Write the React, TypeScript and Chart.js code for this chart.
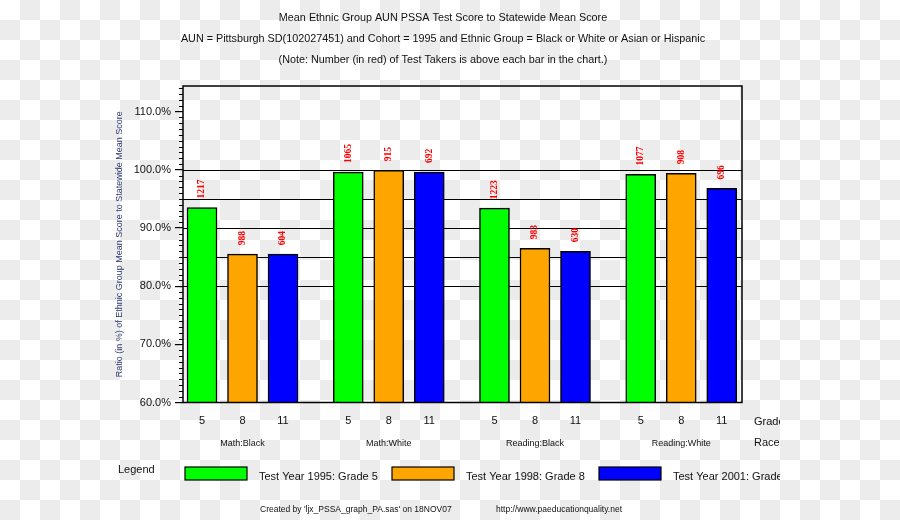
import React, { useEffect, useRef } from 'react';
import { Chart, registerables } from 'chart.js';

Chart.register(...registerables);

const SANS = "'Liberation Sans', Arial, sans-serif";
const SERIF = "'Liberation Serif', 'Times New Roman', serif";

const titleLines = [
  'Mean Ethnic Group AUN PSSA Test Score to Statewide Mean Score',
  'AUN = Pittsburgh SD(102027451) and Cohort = 1995 and Ethnic Group = Black or White or Asian or Hispanic',
  '(Note: Number (in red) of Test Takers is above each bar in the chart.)',
];
const yAxisTitle = 'Ratio (in %) of Ethnic Group Mean Score to Statewide Mean Score';
const races = ['Math:Black', 'Math:White', 'Reading:Black', 'Reading:White'];
const grades = ['5', '8', '11'];
const seriesLabels = ['Test Year 1995: Grade 5', 'Test Year 1998: Grade 8', 'Test Year 2001: Grade 11'];
const seriesColors = ['#00ff00', '#ffa500', '#0000ff'];

const grade5Ratio = [93.5, 99.6, 93.4, 99.2];
const grade8Ratio = [85.5, 99.9, 86.5, 99.4];
const grade11Ratio = [85.5, 99.6, 86.0, 96.8];

const grade5Count = [1217, 1065, 1223, 1077];
const grade8Count = [988, 915, 983, 908];
const grade11Count = [604, 692, 630, 696];

const referenceLines = [80, 85, 90, 95, 100];
const yMin = 60;
const yMax = 114.4;
const yStep = 10;

const legendTitle = 'Legend';
const gradeAxisLabel = 'Grade';
const raceAxisLabel = 'Race';
const footerLeft = "Created by 'ljx_PSSA_graph_PA.sas' on 18NOV07";
const footerRight = 'http://www.paeducationquality.net';

const ratios = [grade5Ratio, grade8Ratio, grade11Ratio];
const counts = [grade5Count, grade8Count, grade11Count];

const GROUP_STEP = 3.61;
const xOf = (g: number, i: number) => g * GROUP_STEP + i;
const barPositions: number[] = [];
races.forEach((_, g) => grades.forEach((__, i) => barPositions.push(xOf(g, i))));

const CLIP_X = 780;

const decorPlugin = {
  id: 'decor',
  beforeDatasetsDraw(chart: any) {
    const { ctx, chartArea: a, scales } = chart;
    const y = scales.y;
    ctx.save();
    ctx.strokeStyle = '#000';
    ctx.lineWidth = 1.2;
    referenceLines.forEach((v) => {
      const py = Math.round(y.getPixelForValue(v)) + 0.5;
      ctx.beginPath();
      ctx.moveTo(a.left, py);
      ctx.lineTo(a.right, py);
      ctx.stroke();
    });
    ctx.restore();
  },
  afterDatasetsDraw(chart: any) {
    const { ctx, chartArea: a, scales } = chart;
    const y = scales.y;
    ctx.save();
    // counts above bars
    ctx.fillStyle = '#ff0000';
    ctx.font = `bold 9.5px ${SERIF}`;
    ctx.textAlign = 'left';
    ctx.textBaseline = 'middle';
    chart.data.datasets.forEach((ds: any, di: number) => {
      const meta = chart.getDatasetMeta(di);
      meta.data.forEach((el: any, j: number) => {
        ctx.save();
        ctx.translate(el.x, el.y - 9);
        ctx.rotate(-Math.PI / 2);
        ctx.fillText(String(counts[di][j]), 0, 0);
        ctx.restore();
      });
    });
    // frame
    ctx.strokeStyle = '#000';
    ctx.lineWidth = 1.5;
    ctx.strokeRect(a.left, a.top, a.right - a.left, a.bottom - a.top);
    // minor ticks
    ctx.lineWidth = 1;
    for (let v = Math.ceil(yMin); v <= yMax; v++) {
      if (v % yStep === 0) continue;
      const py = Math.round(y.getPixelForValue(v)) + 0.5;
      ctx.beginPath();
      ctx.moveTo(a.left - 4, py);
      ctx.lineTo(a.left, py);
      ctx.stroke();
    }
    ctx.restore();
  },
  afterDraw(chart: any) {
    const { ctx, chartArea: a, scales } = chart;
    const x = scales.x;
    ctx.save();
    // titles
    ctx.fillStyle = '#111';
    ctx.font = `10.8px ${SANS}`;
    ctx.textAlign = 'center';
    ctx.textBaseline = 'middle';
    titleLines.forEach((t, i) => ctx.fillText(t, 443, 18 + i * 21));
    // y title
    ctx.save();
    ctx.translate(120, (a.top + a.bottom) / 2);
    ctx.rotate(-Math.PI / 2);
    ctx.fillStyle = '#2e3a72';
    ctx.font = `9px ${SANS}`;
    ctx.fillText(yAxisTitle, 0, 0);
    ctx.restore();
    // group labels
    ctx.fillStyle = '#111';
    ctx.font = `9px ${SANS}`;
    races.forEach((r, g) => {
      ctx.fillText(r, x.getPixelForValue(xOf(g, 1)), 444);
    });
    // clipped texts
    ctx.save();
    ctx.beginPath();
    ctx.rect(0, 0, CLIP_X, chart.height);
    ctx.clip();
    ctx.textAlign = 'left';
    ctx.font = `11px ${SANS}`;
    ctx.fillText(gradeAxisLabel, 754, 422);
    ctx.fillText(raceAxisLabel, 754, 443);
    // legend
    ctx.fillText(legendTitle, 118, 470);
    const swatchX = [185, 392, 599];
    chart.data.datasets.forEach((ds: any, i: number) => {
      const sx = swatchX[i];
      ctx.fillStyle = ds.backgroundColor;
      ctx.fillRect(sx, 467, 62, 13);
      ctx.strokeStyle = '#000';
      ctx.lineWidth = 1.2;
      ctx.strokeRect(sx, 467, 62, 13);
      ctx.fillStyle = '#111';
      ctx.fillText(ds.label, sx + 74, 477);
    });
    ctx.restore();
    // footer
    ctx.font = `8.5px ${SANS}`;
    ctx.textAlign = 'left';
    ctx.fillText(footerLeft, 260, 510);
    ctx.fillText(footerRight, 496, 510);
    ctx.restore();
  },
};

export default function App() {
  const ref = useRef<HTMLCanvasElement | null>(null);
  useEffect(() => {
    if (!ref.current) return;
    const chart = new Chart(ref.current, {
      type: 'bar',
      data: {
        datasets: seriesLabels.map((label, di) => ({
          label,
          data: races.map((_, g) => ({ x: xOf(g, di), y: ratios[di][g] })),
          backgroundColor: seriesColors[di],
          borderColor: '#000',
          borderWidth: 1.5,
          borderSkipped: false,
          barThickness: 30,
          grouped: false,
        })),
      },
      options: {
        animation: false,
        responsive: false,
        devicePixelRatio: 1,
        layout: { padding: { left: 0, top: 86, right: 158, bottom: 0 } },
        plugins: { legend: { display: false }, title: { display: false }, tooltip: { enabled: false } },
        scales: {
          x: {
            type: 'linear',
            offset: false,
            min: -0.469,
            max: 13.33,
            afterFit: (s: any) => { s.height = 117.5; },
            afterBuildTicks: (s: any) => { s.ticks = barPositions.map((v) => ({ value: v })); },
            grid: { display: false, drawTicks: false, offset: false },
            border: { display: false },
            ticks: {
              autoSkip: false,
              maxRotation: 0,
              padding: 12,
              color: '#111',
              font: { family: SANS, size: 11 },
              callback: (_v: any, i: number) => grades[i % grades.length],
            },
          },
          y: {
            type: 'linear',
            min: yMin,
            max: yMax,
            afterFit: (s: any) => { s.width = 183; },
            grid: { display: true, drawOnChartArea: false, drawTicks: true, tickLength: 8, color: '#000', lineWidth: 1.2 },
            border: { display: false },
            ticks: {
              stepSize: yStep,
              includeBounds: false,
              padding: 4,
              color: '#111',
              font: { family: SANS, size: 11 },
              callback: (v: any) => Number(v).toFixed(1) + '%',
            },
          },
        },
      },
      plugins: [decorPlugin],
    });
    return () => chart.destroy();
  }, []);
  return (
    <div
      style={{
        position: 'absolute',
        left: 0,
        top: 0,
        width: 900,
        height: 520,
        backgroundColor: '#ffffff',
        backgroundImage: 'repeating-conic-gradient(#ececec 0 25%, #ffffff 0 50%)',
        backgroundSize: '40px 40px',
      }}
    >
      <canvas ref={ref} width={900} height={520} style={{ display: 'block', width: 900, height: 520 }} />
    </div>
  );
}
